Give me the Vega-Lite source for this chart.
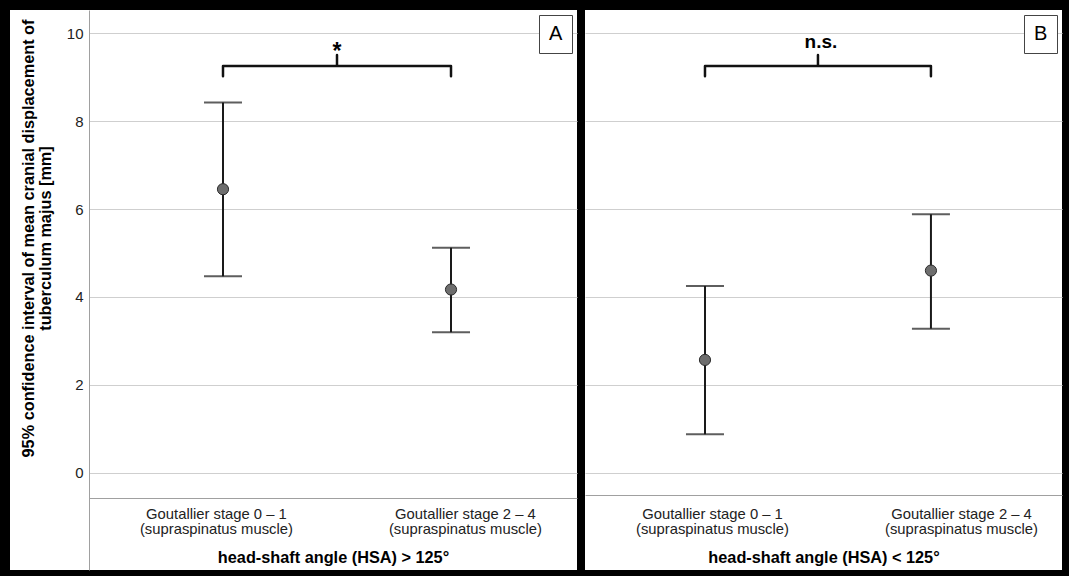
{
  "$schema": "https://vega.github.io/schema/vega-lite/v6.json",
  "background": "black",
  "padding": {"left": 10, "top": 10, "right": 7, "bottom": 6},
  "spacing": 8,
  "datasets": {
    "ci": [
      {"panel": "A", "group": "Goutallier stage 0 – 1", "xi": 1, "mean": 6.45, "lower": 4.47, "upper": 8.42},
      {"panel": "A", "group": "Goutallier stage 2 – 4", "xi": 2, "mean": 4.17, "lower": 3.2, "upper": 5.12},
      {"panel": "B", "group": "Goutallier stage 0 – 1", "xi": 1, "mean": 2.57, "lower": 0.88, "upper": 4.25},
      {"panel": "B", "group": "Goutallier stage 2 – 4", "xi": 2, "mean": 4.6, "lower": 3.28, "upper": 5.88}
    ],
    "bracket": [
      {"panel": "A", "k": 1, "xi": 1, "by": 9.02},
      {"panel": "A", "k": 2, "xi": 1, "by": 9.25},
      {"panel": "A", "k": 3, "xi": 1.5, "by": 9.25},
      {"panel": "A", "k": 4, "xi": 1.5, "by": 9.5},
      {"panel": "A", "k": 5, "xi": 1.5, "by": 9.25},
      {"panel": "A", "k": 6, "xi": 2, "by": 9.25},
      {"panel": "A", "k": 7, "xi": 2, "by": 9.02},
      {"panel": "B", "k": 1, "xi": 1, "by": 9.02},
      {"panel": "B", "k": 2, "xi": 1, "by": 9.25},
      {"panel": "B", "k": 3, "xi": 1.5, "by": 9.25},
      {"panel": "B", "k": 4, "xi": 1.5, "by": 9.5},
      {"panel": "B", "k": 5, "xi": 1.5, "by": 9.25},
      {"panel": "B", "k": 6, "xi": 2, "by": 9.25},
      {"panel": "B", "k": 7, "xi": 2, "by": 9.02}
    ],
    "ann": [
      {"panel": "A", "label": "*", "xi": 1.5, "ay": 9.42},
      {"panel": "B", "label": "n.s.", "xi": 1.5, "ay": 9.66}
    ]
  },
  "resolve": {"scale": {"shape": "independent", "x": "independent"}, "legend": {"shape": "independent"}},
  "hconcat": [
    {
      "spacing": 0,
      "resolve": {"scale": {"shape": "independent"}, "legend": {"shape": "independent"}},
      "hconcat": [
        {
          "width": 79,
          "height": 560,
          "data": {"name": "ci"},
          "transform": [{"filter": "datum.panel == 'A'"}],
          "mark": {"type": "point", "opacity": 0},
          "encoding": {
            "y": {
              "field": "mean", "type": "quantitative",
              "scale": {"domain": [-2.205, 10.523], "nice": false, "zero": false},
              "axis": {
                "orient": "left", "offset": -79, "values": [0, 2, 4, 6, 8, 10],
                "grid": false, "ticks": false, "domain": false,
                "labelPadding": 6, "labelFontSize": 15, "labelColor": "#222",
                "title": ["95% confidence interval of mean cranial displacement of", "tuberculum majus [mm]"],
                "titleFontSize": 16.3, "titleFontWeight": "bold", "titleColor": "black",
                "titlePadding": 13, "titleY": 228, "titleLineHeight": 17
              }
            }
          }
        },
        {
          "width": 488,
          "height": 560,
          "encoding": {
            "x": {
              "field": "xi", "type": "quantitative",
              "scale": {"domain": [0.4123, 2.5526], "nice": false, "zero": false},
              "axis": {
                "orient": "bottom", "offset": -72, "values": [0.969, 2.061],
                "labelExpr": "datum.value < 1.5 ? ['Goutallier stage 0 – 1', '(supraspinatus muscle)'] : ['Goutallier stage 2 – 4', '(supraspinatus muscle)']",
                "ticks": false, "grid": false, "domain": true, "domainColor": "#a0a0a0",
                "labelPadding": 8, "labelFontSize": 14.8, "labelLineHeight": 15, "labelColor": "#222",
                "title": "head-shaft angle (HSA) > 125°", "titleFontSize": 16.3, "titleFontWeight": "bold",
                "titleColor": "black", "titlePadding": 14
              }
            }
          },
          "layer": [
            {
              "data": {"name": "ci"},
              "transform": [{"filter": "datum.panel == 'A'"}],
              "mark": {"type": "rule", "color": "#1a1a1a", "strokeWidth": 2},
              "encoding": {
                "y": {
                  "field": "lower", "type": "quantitative",
                  "scale": {"domain": [-2.205, 10.523], "nice": false, "zero": false},
                  "axis": {"values": [0, 2, 4, 6, 8, 10], "labels": false, "ticks": false, "domain": true,
                           "domainColor": "#a0a0a0", "grid": true, "gridColor": "#cfcfcf", "title": null}
                },
                "y2": {"field": "upper"}
              }
            },
            {
              "data": {"name": "ci"},
              "transform": [{"filter": "datum.panel == 'A'"}],
              "mark": {"type": "tick", "orient": "horizontal", "color": "#1a1a1a", "size": 38, "thickness": 2},
              "encoding": {
                "y": {"field": "upper", "type": "quantitative", "scale": {"domain": [-2.205, 10.523], "nice": false, "zero": false},
                      "axis": {"values": [0, 2, 4, 6, 8, 10], "labels": false, "ticks": false, "domain": true,
                               "domainColor": "#a0a0a0", "grid": true, "gridColor": "#cfcfcf", "title": null}}
              }
            },
            {
              "data": {"name": "ci"},
              "transform": [{"filter": "datum.panel == 'A'"}],
              "mark": {"type": "tick", "orient": "horizontal", "color": "#1a1a1a", "size": 38, "thickness": 2},
              "encoding": {
                "y": {"field": "lower", "type": "quantitative", "scale": {"domain": [-2.205, 10.523], "nice": false, "zero": false},
                      "axis": {"values": [0, 2, 4, 6, 8, 10], "labels": false, "ticks": false, "domain": true,
                               "domainColor": "#a0a0a0", "grid": true, "gridColor": "#cfcfcf", "title": null}}
              }
            },
            {
              "data": {"name": "ci"},
              "transform": [{"filter": "datum.panel == 'A'"}],
              "mark": {"type": "point", "filled": true, "fill": "#6e6e6e", "stroke": "#2a2a2a", "strokeWidth": 1, "size": 125, "opacity": 1},
              "encoding": {
                "y": {"field": "mean", "type": "quantitative", "scale": {"domain": [-2.205, 10.523], "nice": false, "zero": false},
                      "axis": {"values": [0, 2, 4, 6, 8, 10], "labels": false, "ticks": false, "domain": true,
                               "domainColor": "#a0a0a0", "grid": true, "gridColor": "#cfcfcf", "title": null}},
                "shape": {
                  "field": "panel", "type": "nominal", "scale": {"range": ["circle"]},
                  "legend": {
                    "orient": "top-right", "title": null, "offset": 5, "padding": 9,
                    "symbolOpacity": 0, "symbolStrokeWidth": 0, "symbolSize": 1, "labelOffset": -19,
                    "labelFontSize": 20, "labelColor": "black", "strokeColor": "#444", "fillColor": "white"
                  }
                }
              }
            },
            {
              "data": {"name": "bracket"},
              "transform": [{"filter": "datum.panel == 'A'"}],
              "mark": {"type": "line", "color": "#111", "strokeWidth": 2.5, "strokeJoin": "round", "strokeCap": "round"},
              "encoding": {
                "y": {"field": "by", "type": "quantitative", "scale": {"domain": [-2.205, 10.523], "nice": false, "zero": false},
                      "axis": {"values": [0, 2, 4, 6, 8, 10], "labels": false, "ticks": false, "domain": true,
                               "domainColor": "#a0a0a0", "grid": true, "gridColor": "#cfcfcf", "title": null}},
                "order": {"field": "k", "type": "quantitative"}
              }
            },
            {
              "data": {"name": "ann"},
              "transform": [{"filter": "datum.panel == 'A'"}],
              "mark": {"type": "text", "fontSize": 23, "fontWeight": "bold", "baseline": "alphabetic", "align": "center", "color": "black"},
              "encoding": {
                "y": {"field": "ay", "type": "quantitative", "scale": {"domain": [-2.205, 10.523], "nice": false, "zero": false},
                      "axis": {"values": [0, 2, 4, 6, 8, 10], "labels": false, "ticks": false, "domain": true,
                               "domainColor": "#a0a0a0", "grid": true, "gridColor": "#cfcfcf", "title": null}},
                "text": {"field": "label"}
              }
            }
          ]
        }
      ]
    },
    {
      "width": 477,
      "height": 560,
      "encoding": {
        "x": {
          "field": "xi", "type": "quantitative",
          "scale": {"domain": [0.469, 2.58], "nice": false, "zero": false},
          "axis": {
            "orient": "bottom", "offset": -75, "values": [1.031, 2.133],
            "labelExpr": "datum.value < 1.5 ? ['Goutallier stage 0 – 1', '(supraspinatus muscle)'] : ['Goutallier stage 2 – 4', '(supraspinatus muscle)']",
            "ticks": false, "grid": false, "domain": true, "domainColor": "#a0a0a0",
            "labelPadding": 11, "labelFontSize": 14.8, "labelLineHeight": 15, "labelColor": "#222",
            "title": "head-shaft angle (HSA) < 125°", "titleFontSize": 16.3, "titleFontWeight": "bold",
            "titleColor": "black", "titlePadding": 14
          }
        }
      },
      "layer": [
        {
          "data": {"name": "ci"},
          "transform": [{"filter": "datum.panel == 'B'"}],
          "mark": {"type": "rule", "color": "#1a1a1a", "strokeWidth": 2},
          "encoding": {
            "y": {
              "field": "lower", "type": "quantitative",
              "scale": {"domain": [-2.205, 10.523], "nice": false, "zero": false},
              "axis": {"values": [0, 2, 4, 6, 8, 10], "labels": false, "ticks": false, "domain": false,
                       "grid": true, "gridColor": "#cfcfcf", "title": null}
            },
            "y2": {"field": "upper"}
          }
        },
        {
          "data": {"name": "ci"},
          "transform": [{"filter": "datum.panel == 'B'"}],
          "mark": {"type": "tick", "orient": "horizontal", "color": "#1a1a1a", "size": 38, "thickness": 2},
          "encoding": {
            "y": {"field": "upper", "type": "quantitative", "scale": {"domain": [-2.205, 10.523], "nice": false, "zero": false},
                  "axis": {"values": [0, 2, 4, 6, 8, 10], "labels": false, "ticks": false, "domain": false,
                           "grid": true, "gridColor": "#cfcfcf", "title": null}}
          }
        },
        {
          "data": {"name": "ci"},
          "transform": [{"filter": "datum.panel == 'B'"}],
          "mark": {"type": "tick", "orient": "horizontal", "color": "#1a1a1a", "size": 38, "thickness": 2},
          "encoding": {
            "y": {"field": "lower", "type": "quantitative", "scale": {"domain": [-2.205, 10.523], "nice": false, "zero": false},
                  "axis": {"values": [0, 2, 4, 6, 8, 10], "labels": false, "ticks": false, "domain": false,
                           "grid": true, "gridColor": "#cfcfcf", "title": null}}
          }
        },
        {
          "data": {"name": "ci"},
          "transform": [{"filter": "datum.panel == 'B'"}],
          "mark": {"type": "point", "filled": true, "fill": "#6e6e6e", "stroke": "#2a2a2a", "strokeWidth": 1, "size": 125, "opacity": 1},
          "encoding": {
            "y": {"field": "mean", "type": "quantitative", "scale": {"domain": [-2.205, 10.523], "nice": false, "zero": false},
                  "axis": {"values": [0, 2, 4, 6, 8, 10], "labels": false, "ticks": false, "domain": false,
                           "grid": true, "gridColor": "#cfcfcf", "title": null}},
            "shape": {
              "field": "panel", "type": "nominal", "scale": {"range": ["circle"]},
              "legend": {
                "orient": "top-right", "title": null, "offset": 5, "padding": 9,
                "symbolOpacity": 0, "symbolStrokeWidth": 0, "symbolSize": 1, "labelOffset": -19,
                "labelFontSize": 20, "labelColor": "black", "strokeColor": "#444", "fillColor": "white"
              }
            }
          }
        },
        {
          "data": {"name": "bracket"},
          "transform": [{"filter": "datum.panel == 'B'"}],
          "mark": {"type": "line", "color": "#111", "strokeWidth": 2.5, "strokeJoin": "round", "strokeCap": "round"},
          "encoding": {
            "y": {"field": "by", "type": "quantitative", "scale": {"domain": [-2.205, 10.523], "nice": false, "zero": false},
                  "axis": {"values": [0, 2, 4, 6, 8, 10], "labels": false, "ticks": false, "domain": false,
                           "grid": true, "gridColor": "#cfcfcf", "title": null}},
            "order": {"field": "k", "type": "quantitative"}
          }
        },
        {
          "data": {"name": "ann"},
          "transform": [{"filter": "datum.panel == 'B'"}],
          "mark": {"type": "text", "fontSize": 19, "fontWeight": "bold", "baseline": "alphabetic", "align": "center", "color": "black", "dx": 3},
          "encoding": {
            "y": {"field": "ay", "type": "quantitative", "scale": {"domain": [-2.205, 10.523], "nice": false, "zero": false},
                  "axis": {"values": [0, 2, 4, 6, 8, 10], "labels": false, "ticks": false, "domain": false,
                           "grid": true, "gridColor": "#cfcfcf", "title": null}},
            "text": {"field": "label"}
          }
        }
      ]
    }
  ],
  "config": {
    "font": "Liberation Sans",
    "view": {"stroke": null, "fill": "white"},
    "axis": {"labelFont": "Liberation Sans", "titleFont": "Liberation Sans"},
    "legend": {"labelFont": "Liberation Sans"},
    "text": {"font": "Liberation Sans"}
  }
}
